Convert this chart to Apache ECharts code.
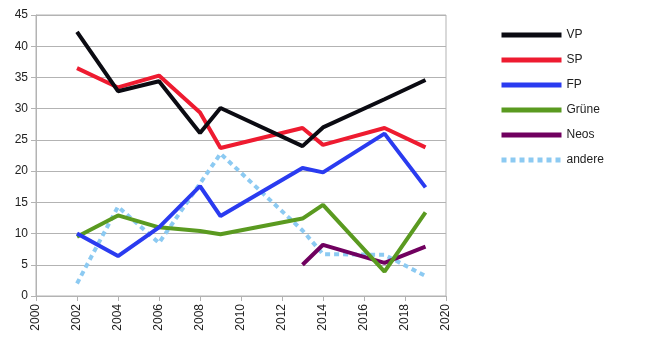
<!DOCTYPE html>
<html><head><meta charset="utf-8">
<script src="https://cdn.jsdelivr.net/npm/echarts@6/dist/echarts.min.js"></script>
<style>html,body{margin:0;padding:0;background:#fff}#c{width:652px;height:340px}</style>
</head><body><div id="c"></div>
<script>
const seriesNames = ['VP', 'SP', 'FP', 'Grüne', 'Neos', 'andere'];
const years = [2002, 2004, 2006, 2008, 2009, 2013, 2014, 2017, 2019];
const vp = [42.3, 32.8, 34.4, 26.1, 30.1, 24.0, 27.0, 31.5, 34.6];
const sp = [36.5, 33.4, 35.3, 29.4, 23.7, 26.9, 24.2, 26.9, 23.8];
const fp = [10.0, 6.4, 11.0, 17.6, 12.8, 20.5, 19.8, 26.0, 17.4];
const gruene = [9.5, 12.9, 11.0, 10.4, 9.9, 12.4, 14.6, 3.9, 13.4];
const neos = [null, null, null, null, null, 5.0, 8.2, 5.3, 7.9];
const andere = [2.0, 14.3, 8.5, 18.0, 22.8, 10.5, 6.7, 6.6, 3.2];
const colors = ['#0b0b12', '#ee1b30', '#2a3bf0', '#5a9a20', '#70005f', '#8ccaf2'];
const values = [vp, sp, fp, gruene, neos, andere];

const series = seriesNames.map((n, i) => ({
  name: n,
  type: 'line',
  symbol: 'none',
  showSymbol: false,
  color: colors[i],
  lineStyle: { width: 4, color: colors[i], type: n === 'andere' ? [5, 4] : 'solid', cap: 'butt' },
  data: years.map((y, j) => values[i][j] == null ? null : [y, values[i][j]]).filter(d => d),
  z: 10 - i
}));

const chart = echarts.init(document.getElementById('c'), null, { renderer: 'canvas' });
chart.setOption({
  animation: false,
  textStyle: { fontFamily: 'Liberation Sans' },
  grid: { left: 36, right: 206, top: 15, bottom: 44, show: true, borderColor: '#b3b3b3', borderWidth: 1 },
  xAxis: {
    type: 'value', min: 2000, max: 2020, interval: 2,
    axisLine: { lineStyle: { color: '#b3b3b3' } },
    axisTick: { show: true, length: 5, lineStyle: { color: '#b3b3b3' } },
    axisLabel: { rotate: 90, color: '#222', fontSize: 12, fontFamily: 'Liberation Sans', margin: 8,
      formatter: v => String(v) },
    splitLine: { show: false }
  },
  yAxis: {
    type: 'value', min: 0, max: 45, interval: 5,
    axisLine: { show: true, lineStyle: { color: '#b3b3b3' } },
    axisTick: { show: true, length: 5, lineStyle: { color: '#b3b3b3' } },
    axisLabel: { color: '#222', fontSize: 12, fontFamily: 'Liberation Sans', margin: 8 },
    splitLine: { lineStyle: { color: '#b3b3b3' } }
  },
  legend: {
    orient: 'vertical', left: 499, top: 29, padding: 0,
    itemWidth: 60, itemHeight: 10, itemGap: 13,
    itemStyle: { color: 'rgba(0,0,0,0)', borderColor: 'rgba(0,0,0,0)', borderWidth: 0 },
    lineStyle: { width: 5, cap: 'butt' },
    textStyle: { color: '#222', fontSize: 12, fontFamily: 'Liberation Sans' },
    data: seriesNames
  },
  series: series
});
</script></body></html>
